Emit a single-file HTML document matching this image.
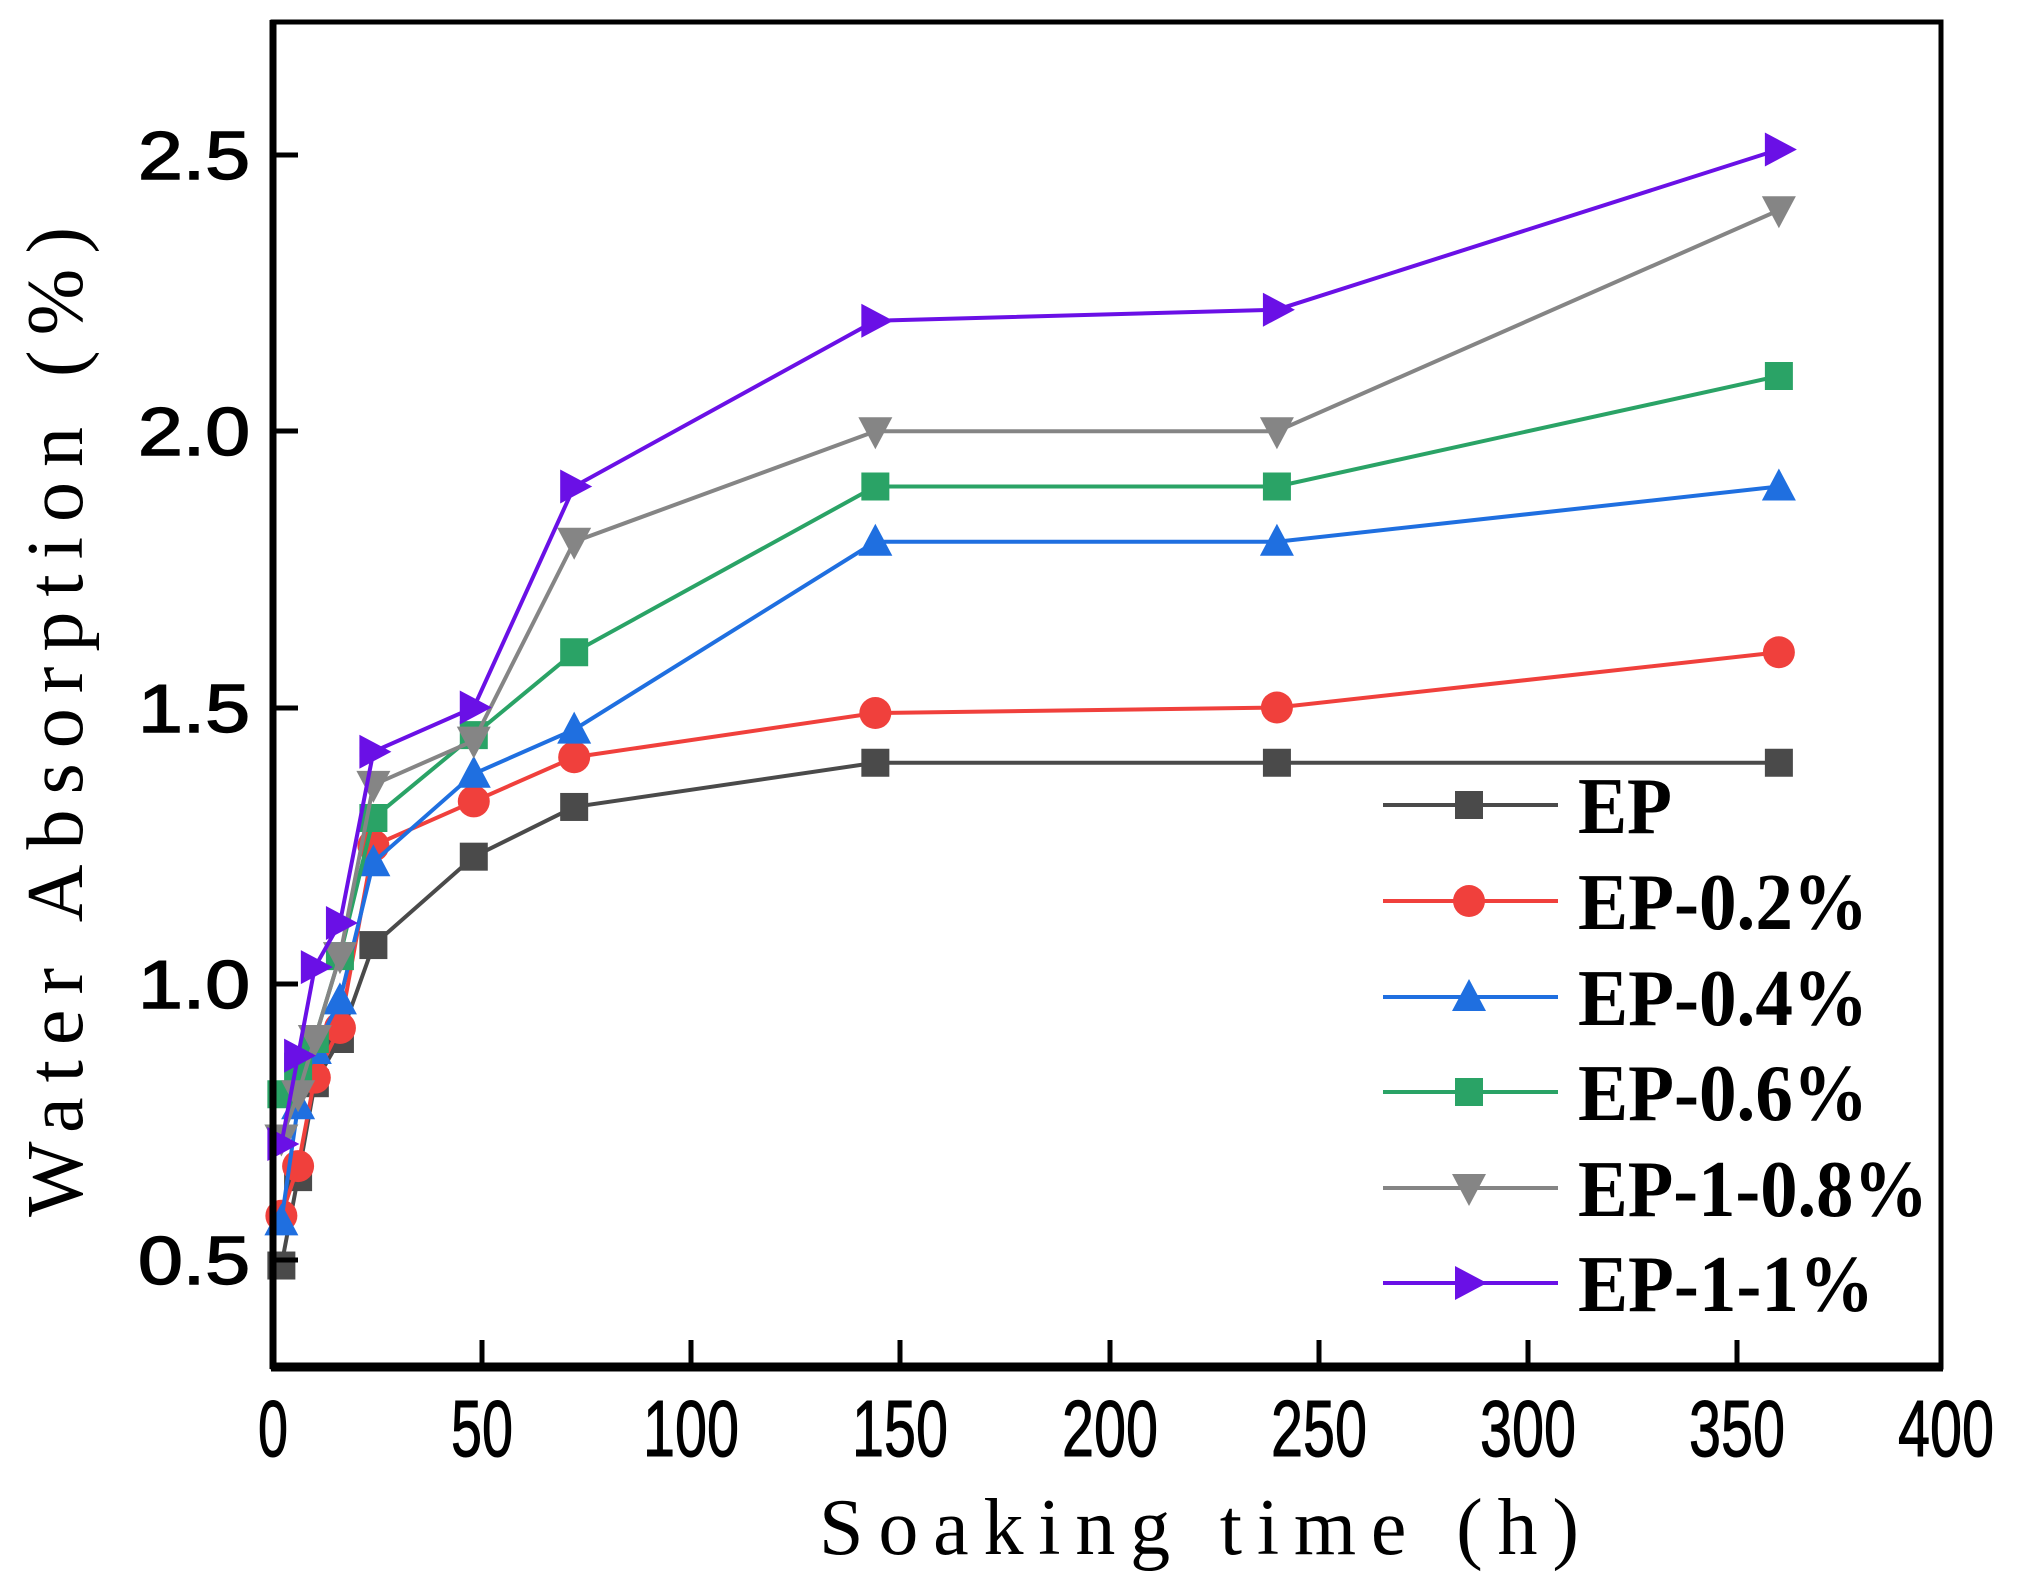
<!DOCTYPE html>
<html><head><meta charset="utf-8"><style>
html,body{margin:0;padding:0;background:#fff;}
svg{display:block;}
</style></head><body>
<svg id="s" width="2022" height="1593" viewBox="0 0 2022 1593" xmlns="http://www.w3.org/2000/svg">
<rect width="2022" height="1593" fill="#fff"/>
<g id="series"></g>
<rect x="273" y="22" width="1668" height="1345" fill="none" stroke="#000" stroke-width="5"/>
<line x1="271" y1="1367" x2="1943" y2="1367" stroke="#000" stroke-width="9"/>
<line x1="273" y1="20" x2="273" y2="1369" stroke="#000" stroke-width="7"/>
<g stroke="#000" stroke-width="5">
<line x1="273" y1="155" x2="298" y2="155"/>
<line x1="273" y1="431" x2="298" y2="431"/>
<line x1="273" y1="708" x2="298" y2="708"/>
<line x1="273" y1="984" x2="298" y2="984"/>
<line x1="273" y1="1260" x2="298" y2="1260"/>
<line x1="482" y1="1367" x2="482" y2="1340"/>
<line x1="691" y1="1367" x2="691" y2="1340"/>
<line x1="900" y1="1367" x2="900" y2="1340"/>
<line x1="1110" y1="1367" x2="1110" y2="1340"/>
<line x1="1319" y1="1367" x2="1319" y2="1340"/>
<line x1="1528" y1="1367" x2="1528" y2="1340"/>
<line x1="1737" y1="1367" x2="1737" y2="1340"/>
</g>
<g font-family="Liberation Sans, sans-serif" font-size="68" fill="#000" stroke="#000" stroke-width="1.5" text-anchor="end">
<text x="250" y="179" textLength="112" lengthAdjust="spacingAndGlyphs">2.5</text>
<text x="250" y="455" textLength="112" lengthAdjust="spacingAndGlyphs">2.0</text>
<text x="250" y="732" textLength="112" lengthAdjust="spacingAndGlyphs">1.5</text>
<text x="250" y="1008" textLength="112" lengthAdjust="spacingAndGlyphs">1.0</text>
<text x="250" y="1284" textLength="112" lengthAdjust="spacingAndGlyphs">0.5</text>
</g>
<g font-family="Liberation Sans, sans-serif" font-size="80" fill="#000" stroke="#000" stroke-width="1" text-anchor="middle">
<text x="273" y="1456" textLength="30" lengthAdjust="spacingAndGlyphs">0</text>
<text x="482" y="1456" textLength="62" lengthAdjust="spacingAndGlyphs">50</text>
<text x="691" y="1456" textLength="96" lengthAdjust="spacingAndGlyphs">100</text>
<text x="900" y="1456" textLength="96" lengthAdjust="spacingAndGlyphs">150</text>
<text x="1110" y="1456" textLength="96" lengthAdjust="spacingAndGlyphs">200</text>
<text x="1319" y="1456" textLength="96" lengthAdjust="spacingAndGlyphs">250</text>
<text x="1528" y="1456" textLength="96" lengthAdjust="spacingAndGlyphs">300</text>
<text x="1737" y="1456" textLength="96" lengthAdjust="spacingAndGlyphs">350</text>
<text x="1946" y="1456" textLength="96" lengthAdjust="spacingAndGlyphs">400</text>
</g>
<text x="1199" y="1554" font-family="Liberation Serif, serif" font-size="80" text-anchor="middle" textLength="760" lengthAdjust="spacing">Soaking time (h)</text>
<text transform="translate(82,722) rotate(-90)" font-family="Liberation Serif, serif" font-size="80" text-anchor="middle" textLength="990" lengthAdjust="spacing">Water Absorption (%)</text>
<g id="legend"></g>
<g font-family="Liberation Serif, serif" font-weight="bold" font-size="80" fill="#000">
<text x="1578" y="833" textLength="94" lengthAdjust="spacingAndGlyphs">EP</text>
<text x="1578" y="929" textLength="290" lengthAdjust="spacingAndGlyphs">EP-0.2%</text>
<text x="1578" y="1025" textLength="290" lengthAdjust="spacingAndGlyphs">EP-0.4%</text>
<text x="1578" y="1120" textLength="290" lengthAdjust="spacingAndGlyphs">EP-0.6%</text>
<text x="1578" y="1216" textLength="350" lengthAdjust="spacingAndGlyphs">EP-1-0.8%</text>
<text x="1578" y="1311" textLength="296" lengthAdjust="spacingAndGlyphs">EP-1-1%</text>
</g>
</svg>
<script>
(function(){
var NS="http://www.w3.org/2000/svg";
function X(t){return 273+t*4.183;}
function Y(v){return 1260-(v-0.5)*552.5;}
var T=[2,6,10,16,24,48,72,144,240,360];
var S=[
 {c:"#4a4a4a",m:"sq",d:[0.49,0.65,0.82,0.90,1.07,1.23,1.32,1.40,1.40,1.40]},
 {c:"#f0403c",m:"ci",d:[0.58,0.67,0.83,0.92,1.25,1.33,1.41,1.49,1.50,1.60]},
 {c:"#1f6fe0",m:"up",d:[0.57,0.78,0.88,0.97,1.22,1.38,1.46,1.80,1.80,1.90]},
 {c:"#2aa366",m:"sq",d:[0.80,0.85,0.90,1.05,1.30,1.45,1.60,1.90,1.90,2.10]},
 {c:"#858585",m:"dn",d:[0.72,0.80,0.90,1.05,1.36,1.44,1.80,2.00,2.00,2.40]},
 {c:"#6a10e6",m:"rt",d:[0.71,0.87,1.03,1.11,1.42,1.50,1.90,2.20,2.22,2.51]}
];
function el(n,a,p){var e=document.createElementNS(NS,n);for(var k in a)e.setAttribute(k,a[k]);p.appendChild(e);return e;}
function mk(type,x,y,c,p){
 var r=14;
 if(type=="sq")el("rect",{x:x-r,y:y-r,width:2*r,height:2*r,fill:c},p);
 else if(type=="ci")el("circle",{cx:x,cy:y,r:r+2,fill:c},p);
 else if(type=="up")el("polygon",{points:(x-r-3)+","+(y+r)+" "+(x+r+3)+","+(y+r)+" "+x+","+(y-r-4),fill:c},p);
 else if(type=="dn")el("polygon",{points:(x-r-3)+","+(y-r)+" "+(x+r+3)+","+(y-r)+" "+x+","+(y+r+4),fill:c},p);
 else if(type=="rt")el("polygon",{points:(x-r)+","+(y-r-3)+" "+(x-r)+","+(y+r+3)+" "+(x+r+4)+","+y,fill:c},p);
}
var g=document.getElementById("series"),lg=document.getElementById("legend");
var LY=[805,901,997,1092,1188,1283];
S.forEach(function(s,i){
 var pts=T.map(function(t,j){return X(t)+","+Y(s.d[j]);}).join(" ");
 el("polyline",{points:pts,fill:"none",stroke:s.c,"stroke-width":4},g);
 T.forEach(function(t,j){mk(s.m,X(t),Y(s.d[j]),s.c,g);});
 el("line",{x1:1383,y1:LY[i],x2:1558,y2:LY[i],stroke:s.c,"stroke-width":4},lg);
 mk(s.m,1469,LY[i],s.c,lg);
});
})();
</script>
</body></html>
